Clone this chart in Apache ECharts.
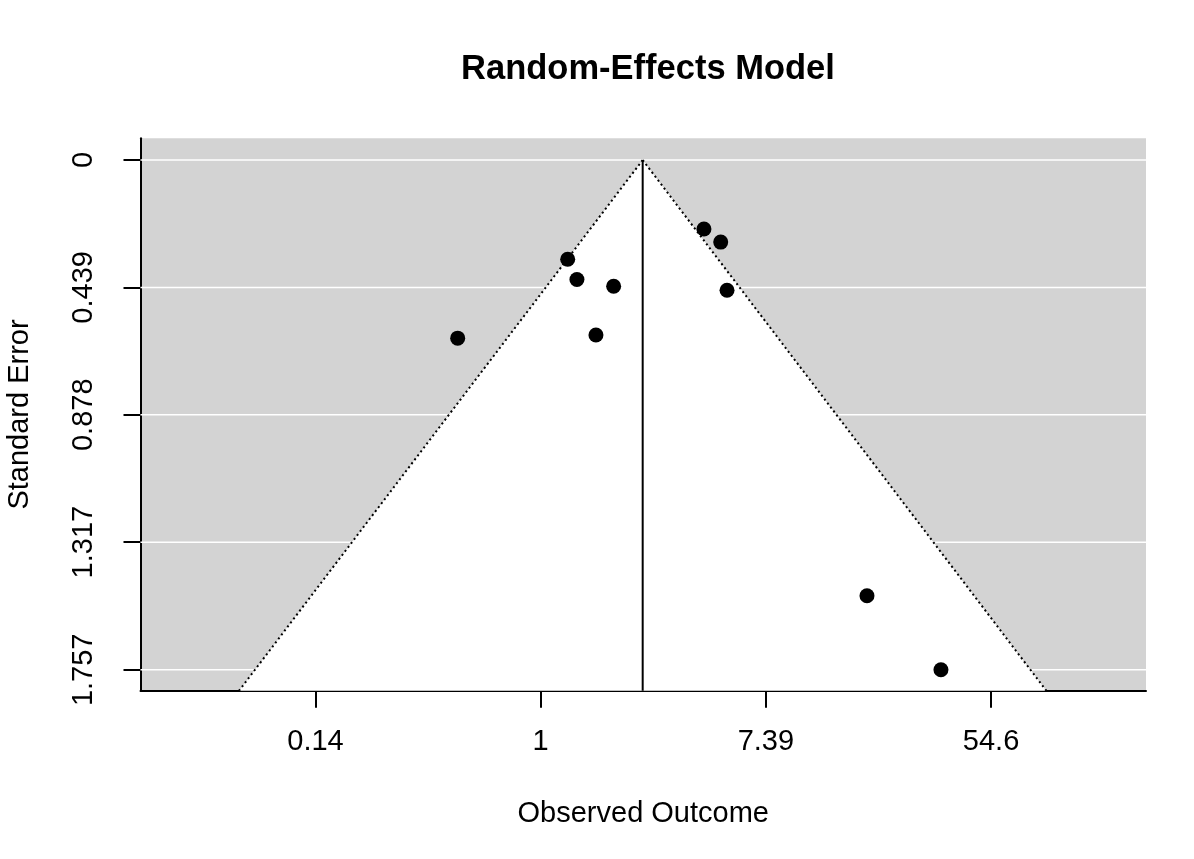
<!DOCTYPE html>
<html>
<head>
<meta charset="utf-8">
<script src="https://cdn.jsdelivr.net/npm/echarts@6/dist/echarts.min.js"></script>
<style>
html, body { margin: 0; padding: 0; background: #fff; }
#chart { width: 1194px; height: 859px; }
</style>
</head>
<body>
<div id="chart"></div>
<script>
// observed outcomes (log scale) and their standard errors
var yi = [-0.737, 0.240, 0.322, 0.648, 0.491, 1.450, 1.599, 1.655, 2.898, 3.555];
var sei = [0.614, 0.342, 0.412, 0.435, 0.603, 0.238, 0.283, 0.449, 1.502, 1.757];
var estimate = 0.906;

var xTicks = [-2, 0, 2, 4];
var xTickLabels = ['0.14', '1', '7.39', '54.6'];
var yTicks = [0, 0.439, 0.878, 1.317, 1.757];
var yTickLabels = ['0', '0.439', '0.878', '1.317', '1.757'];

var xMin = -3.554, xMax = 5.376;
var yMin = -0.0748, yMax = 1.829;
var crit = 1.96;

var font = 'Liberation Sans, Arial, Helvetica, sans-serif';

var chart = echarts.init(document.getElementById('chart'));

var points = yi.map(function (v, i) { return [v, sei[i]]; });
var leftEdge = [[estimate, 0], [estimate - crit * yMax, yMax]];
var rightEdge = [[estimate, 0], [estimate + crit * yMax, yMax]];

chart.setOption({
	animation: false,
	title: {
		text: 'Random-Effects Model',
		left: 643,
		top: 47,
		textAlign: 'center',
		textStyle: { fontFamily: font, fontSize: 34.5, fontWeight: 'bold', color: '#000' }
	},
	grid: {
		left: 140.5,
		right: 48,
		top: 138.3,
		bottom: 168.3,
		outerBoundsMode: 'none',
		containLabel: false,
		show: true,
		backgroundColor: '#d3d3d3',
		borderWidth: 0
	},
	xAxis: {
		type: 'value',
		min: xMin,
		max: xMax,
		name: 'Observed Outcome',
		nameLocation: 'middle',
		nameGap: 109,
		nameTextStyle: { fontFamily: font, fontSize: 29, color: '#000' },
		axisLine: { onZero: false, lineStyle: { color: '#000', width: 2 } },
		axisTick: { customValues: xTicks, length: 17, lineStyle: { color: '#000', width: 2 } },
		axisLabel: {
			customValues: xTicks,
			margin: 37,
			fontFamily: font,
			fontSize: 29,
			color: '#000',
			formatter: function (v) { return xTickLabels[xTicks.indexOf(v)]; }
		},
		splitLine: { show: false }
	},
	yAxis: {
		type: 'value',
		inverse: true,
		min: yMin,
		max: yMax,
		name: 'Standard Error',
		nameLocation: 'middle',
		nameGap: 106,
		nameTextStyle: { fontFamily: font, fontSize: 29, color: '#000' },
		axisLine: { onZero: false, lineStyle: { color: '#000', width: 2 } },
		axisTick: { customValues: yTicks, length: 17, lineStyle: { color: '#000', width: 2 } },
		axisLabel: {
			customValues: yTicks,
			rotate: 90,
			margin: 42,
			fontFamily: font,
			fontSize: 29,
			color: '#000',
			formatter: function (v) { return yTickLabels[yTicks.indexOf(v)]; }
		},
		splitLine: { show: false }
	},
	series: [
		{
			// white funnel region
			type: 'custom',
			silent: true,
			z: 1,
			data: [[estimate, 0]],
			renderItem: function (params, api) {
				return {
					type: 'polygon',
					shape: {
						points: [
							api.coord([estimate - crit * yMax, yMax]),
							api.coord([estimate, 0]),
							api.coord([estimate + crit * yMax, yMax])
						]
					},
					style: { fill: '#fff', stroke: null }
				};
			}
		},
		{
			// horizontal reference lines at the y ticks
			type: 'custom',
			silent: true,
			z: 2,
			data: yTicks.map(function (t) { return [t]; }),
			renderItem: function (params, api) {
				var a = api.coord([xMin, api.value(0)]);
				var b = api.coord([xMax, api.value(0)]);
				return {
					type: 'line',
					shape: { x1: a[0], y1: a[1], x2: b[0], y2: b[1] },
					style: { stroke: '#fff', lineWidth: 1.5 }
				};
			}
		},
		{
			type: 'line',
			data: leftEdge,
			z: 3,
			symbol: 'none',
			lineStyle: { color: '#000', width: 2, type: [2, 3] }
		},
		{
			type: 'line',
			data: rightEdge,
			z: 3,
			symbol: 'none',
			lineStyle: { color: '#000', width: 2, type: [2, 3] }
		},
		{
			type: 'line',
			data: [[estimate, 0], [estimate, yMax]],
			z: 3,
			symbol: 'none',
			lineStyle: { color: '#000', width: 2 }
		},
		{
			type: 'scatter',
			data: points,
			z: 4,
			symbol: 'circle',
			symbolSize: 15,
			itemStyle: { color: '#000', opacity: 1 }
		}
	]
});
</script>
</body>
</html>
